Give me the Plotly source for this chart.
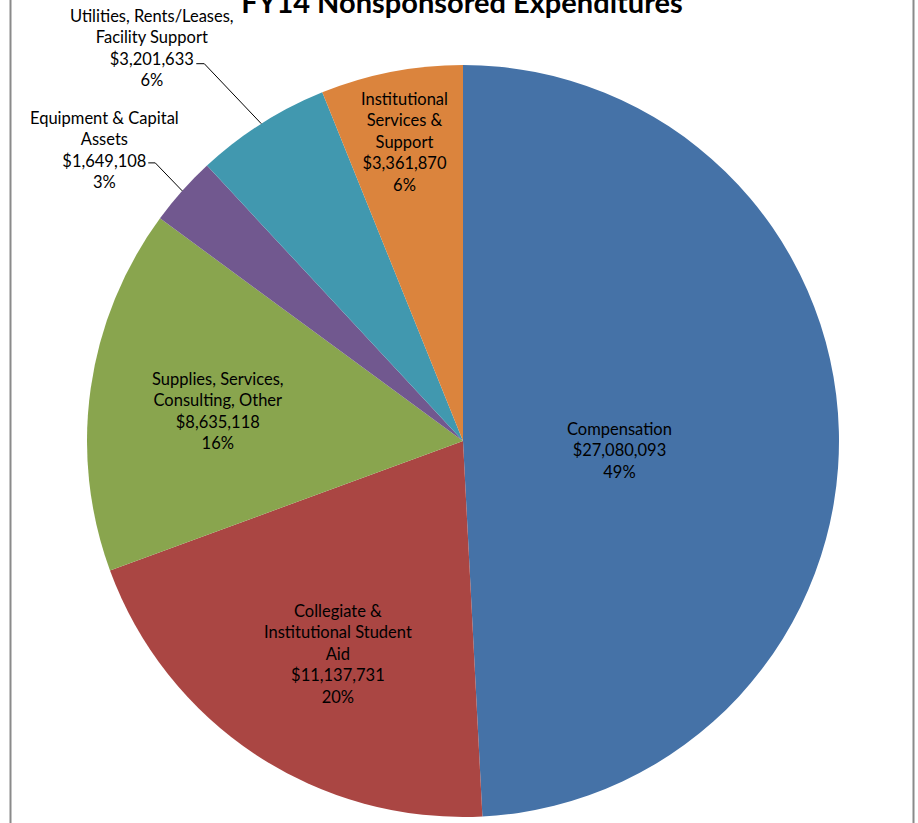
"""FY14 nonsponsored expenditures pie."""

import math

import plotly.graph_objects as go

categories = [
    "Compensation",
    "Collegiate &<br>Institutional Student<br>Aid",
    "Supplies, Services,<br>Consulting, Other",
    "Equipment & Capital<br>Assets",
    "Utilities, Rents/Leases,<br>Facility Support",
    "Institutional<br>Services &<br>Support",
]
amounts = [27080093, 11137731, 8635118, 1649108, 3201633, 3361870]
colors = ["#4572A7", "#AA4643", "#89A54E", "#71588F", "#4198AF", "#DB843D"]

W, H = 918, 823
CX, CY, R = 463, 441, 376  # pie centre / radius in px

# inside labels: (radial fraction, angle nudge in deg); None -> outside with leader
label_pos = [(0.418, 5.1), (0.657, -3.05), (0.656, -1.1), None, None, (0.81, 0.0)]
# outside labels: text-centre offset and leader start/elbow offsets from slice edge (px)
outside = {
    3: {"text": (-78, -41), "start": (-34, -28), "elbow": (-27, -28)},
    4: {"text": (-109, -76), "start": (-65, -60), "elbow": (-57, -60)},
}

FONT = "Lato, 'Open Sans', sans-serif"


def px_to_paper(x, y):
    return x / W, 1 - y / H


fig = go.Figure(go.Pie(
    labels=[c.replace("<br>", " ") for c in categories],
    values=amounts,
    sort=False,
    direction="clockwise",
    rotation=0,
    marker=dict(colors=colors, line=dict(width=0)),
    textinfo="none",
    hoverinfo="label+value+percent",
    showlegend=False,
    domain=dict(x=[(CX - R) / W, (CX + R) / W], y=[1 - (CY + R) / H, 1 - (CY - R) / H]),
))

total = sum(amounts)
annotations = []
shapes = []
cum = 0
for i, (name, val) in enumerate(zip(categories, amounts)):
    frac = val / total
    mid_deg = (cum + frac / 2) * 360
    cum += frac
    text = f"{name}<br>${val:,}<br>{round(frac * 100)}%"
    if label_pos[i] is not None:
        rf, nudge = label_pos[i]
        a = math.radians(mid_deg + nudge)
        x, y = CX + rf * R * math.sin(a), CY - rf * R * math.cos(a)
    else:
        a = math.radians(mid_deg)
        ex, ey = CX + R * math.sin(a), CY - R * math.cos(a)
        o = outside[i]
        x, y = ex + o["text"][0], ey + o["text"][1]
        p0 = px_to_paper(ex + o["start"][0], ey + o["start"][1])
        p1 = px_to_paper(ex + o["elbow"][0], ey + o["elbow"][1])
        p2 = px_to_paper(ex, ey)
        shapes.append(dict(
            type="path", xref="paper", yref="paper",
            path=f"M {p0[0]},{p0[1]} L {p1[0]},{p1[1]} L {p2[0]},{p2[1]}",
            line=dict(color="#000000", width=1),
        ))
    ax_, ay_ = px_to_paper(x, y)
    annotations.append(dict(
        x=ax_, y=ay_, xref="paper", yref="paper", text=text, showarrow=False,
        xanchor="center", yanchor="middle", align="center",
        font=dict(family=FONT, size=16.5, color="#000000"),
    ))

# chart-area border edges
for bx in (10.5, 913.5):
    shapes.append(dict(
        type="line", xref="paper", yref="paper",
        x0=bx / W, x1=bx / W, y0=0, y1=1,
        line=dict(color="#8a8a8a", width=2),
    ))

fig.update_layout(
    width=W, height=H,
    margin=dict(l=0, r=0, t=0, b=0),
    paper_bgcolor="white",
    title=dict(
        text="<b>FY14 Nonsponsored Expenditures</b>",
        x=462 / W, xanchor="center", y=0.997, yanchor="middle",
        font=dict(family=FONT, size=29, color="#000000"),
    ),
    annotations=annotations,
    shapes=shapes,
)

fig.write_html(
    "out.html",
    config={"displayModeBar": False},
    post_script="document.body.style.margin='0';",
)
